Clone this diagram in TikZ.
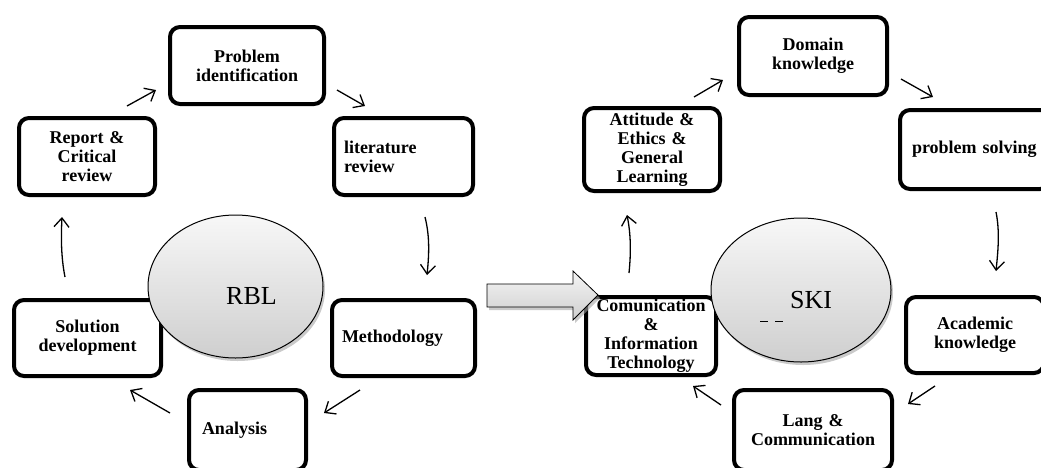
\documentclass[tikz,border=0pt]{standalone}
\usepackage{fontspec}
\setmainfont{Liberation Serif}
\usetikzlibrary{shapes.geometric,arrows.meta,calc,shadows}
\begin{document}
\begin{tikzpicture}[x=1pt,y=-1pt,
 box/.style={draw,line width=4pt,rounded corners=10pt,fill=white,inner ysep=0pt,inner xsep=4pt,
   font=\bfseries\fontsize{18}{19}\selectfont},
 cbox/.style={box,align=center},
 lbox/.style={box,align=left},
 arr/.style={line width=1.3pt,-{Straight Barb[length=9pt,width=15pt]}},
 hub/.style={ellipse,draw,line width=1pt,top color=gray!6,bottom color=gray!38,
   drop shadow={shadow xshift=2pt,shadow yshift=-3pt,fill=gray!70,opacity=0.6},inner sep=0pt},
 hubtext/.style={font=\fontsize{26}{28}\selectfont,inner sep=0pt},
 blockarrow/.style={line width=0.8pt,top color=gray!8,bottom color=gray!38,
   drop shadow={shadow xshift=2pt,shadow yshift=-3pt,fill=gray!70,opacity=0.6}}
]
\useasboundingbox (0,0) rectangle (1041,467);

% ---- left cycle (RBL) ----
\node[cbox,minimum width=154pt,minimum height=77pt,text width=146pt] (PI) at (247,65.5) {Problem\\identification};
\node[cbox,minimum width=136pt,minimum height=77pt,text width=128pt] (RC) at (87,156.5) {Report \&\\Critical\\review};
\node[lbox,minimum width=139pt,minimum height=77pt,text width=119pt,inner xsep=10pt] (LR) at (403.5,156.5) {literature\\review};
\node[cbox,minimum width=147pt,minimum height=76pt,text width=139pt] (SD) at (87.5,338) {Solution\\development};
\node[lbox,minimum width=143pt,minimum height=76pt,text width=123pt,inner xsep=10pt] (ME) at (403.5,338) {Methodology};
\node[lbox,minimum width=117pt,minimum height=80pt,text width=91pt,inner xsep=13pt] (AN) at (247.5,430) {Analysis};

% ---- right cycle (SKI) ----
\node[cbox,minimum width=148pt,minimum height=78pt,text width=140pt] (DK) at (813,56) {Domain\\knowledge};
\node[cbox,minimum width=136pt,minimum height=83pt,text width=128pt] (AT) at (652,149.5) {Attitude \&\\Ethics \&\\General\\Learning};
\node[lbox,minimum width=150pt,minimum height=79pt,text width=126pt,inner xsep=12pt] (PS) at (975,149.5) {problem solving};
\node[cbox,minimum width=138pt,minimum height=76pt,text width=130pt] (AK) at (975,335) {Academic\\knowledge};
\node[cbox,minimum width=130pt,minimum height=78pt,text width=122pt] (CI) at (651,336) {Comunication\\\&\\Information\\Technology};
\node[cbox,minimum width=158pt,minimum height=80pt,text width=150pt] (LC) at (813,430) {Lang \&\\Communication};

% ---- hubs ----
\node[hub,minimum width=175pt,minimum height=143pt] (RBL) at (235.5,286.5) {};
\node[hubtext] (RBLt) at ($(RBL)+(16,10)$) {RBL};
\node[hub,minimum width=180pt,minimum height=144pt] (SKI) at (801,290) {};
\node[hubtext] (SKIt) at ($(SKI)+(10,10)$) {SKI};
\draw[line width=1pt] (760,321) -- (768,321) (775,321) -- (783,321);

% ---- block arrow ----
\draw[blockarrow] (487,284) -- (573,284) -- (573,271) -- (598,295) -- (573,320) -- (573,307) -- (487,307) -- cycle;

% ---- connectors left ----
\draw[arr] ($(RC.north)+(40,-10)$) -- ($(PI.south west)+(-12,-16)$);
\draw[arr] ($(PI.south east)+(11,-16)$) -- ($(LR.north)+(-38.5,-10)$);
\draw[arr] ($(LR.south)+(21.5,20)$) .. controls +(5,20) and +(2,-20) .. ($(ME.north)+(23.5,-23)$);
\draw[arr] ($(ME.south)+(-43.5,12)$) -- ($(AN.east)+(16,-17)$);
\draw[arr] ($(AN.west)+(-17,-17)$) -- ($(SD.south)+(42.5,12)$);
\draw[arr] ($(SD.north)+(-22.5,-21)$) .. controls +(-4,-20) and +(-1,20) .. ($(RC.south)+(-25,20)$);

% ---- connectors right ----
\draw[arr] ($(AT.north)+(42,-9)$) -- ($(DK.south west)+(-14,-17)$);
\draw[arr] ($(DK.south east)+(12,-18)$) -- ($(PS.north)+(-42,-11)$);
\draw[arr] ($(PS.south)+(21,21)$) .. controls +(4,20) and +(2,-20) .. ($(AK.north)+(21,-24)$);
\draw[arr] ($(AK.south)+(-40,11)$) -- ($(LC.east)+(14,-26)$);
\draw[arr] ($(LC.west)+(-11,-25)$) -- ($(CI.south)+(42,9)$);
\draw[arr] ($(CI.north)+(-22,-22)$) .. controls +(2,-20) and +(4,20) .. ($(AT.south)+(-25,22)$);
\end{tikzpicture}
\end{document}
